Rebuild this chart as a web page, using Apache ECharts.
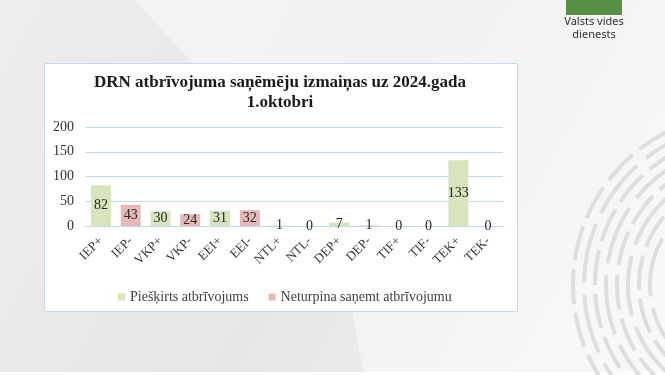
<!DOCTYPE html>
<html>
<head>
<meta charset="utf-8">
<script src="https://cdn.jsdelivr.net/npm/echarts@6/dist/echarts.min.js"></script>
<style>
  html, body { margin: 0; padding: 0; }
  #chart { width: 665px; height: 375px; }
</style>
</head>
<body>
<div id="chart"></div>
<script>
// kategorijas un vērtības
var categories = ["IEP+", "IEP-", "VKP+", "VKP-", "EEI+", "EEI-", "NTL+", "NTL-", "DEP+", "DEP-", "TIF+", "TIF-", "TEK+", "TEK-"];
var pieskirts = [82, "-", 30, "-", 31, "-", 1, "-", 7, "-", 0, "-", 133, "-"];
var neturpina = ["-", 43, "-", 24, "-", 32, "-", 0, "-", 1, "-", 0, "-", 0];
var yTicks = [0, 50, 100, 150, 200];
var seriesNames = ["Piešķirts atbrīvojums", "Neturpina saņemt atbrīvojumu"];

(function(){
  var myChart = echarts.init(document.getElementById('chart'));
  var serif = "Liberation Serif";

  // fona "pirksta nospiedums" labajā pusē
  var arcs = [];
  for (var i = 0; i < 8; i++) {
    arcs.push({
      type: 'arc',
      silent: true,
      z: -9,
      shape: { cx: 745, cy: 285, r: 95 + i * 11, startAngle: Math.PI * 0.72, endAngle: Math.PI * 1.38 },
      style: { stroke: '#dedede', lineWidth: 4, fill: null, lineDash: i % 2 ? [35, 9] : [60, 12] }
    });
  }

  var option = {
    textStyle: { fontFamily: serif },
    backgroundColor: {
      type: 'linear', x: 0, y: 0, x2: 1, y2: 1,
      colorStops: [
        { offset: 0, color: '#ededee' },
        { offset: 0.5, color: '#e6e6e8' },
        { offset: 1, color: '#f4f4f4' }
      ]
    },
    graphic: [
      {
        type: 'polygon', silent: true, z: -10,
        shape: { points: [[135, 0], [665, 0], [665, 375], [364, 375], [352, 311], [190, 60]] },
        style: { fill: 'rgba(255,255,255,0.45)' }
      },
      {
        type: 'rect', silent: true, z: -10,
        shape: { x: 0, y: 372, width: 665, height: 3 },
        style: { fill: '#ffffff' }
      }
    ].concat(arcs).concat([
      {
        type: 'rect', silent: true, z: -5,
        shape: { x: 44.5, y: 63.5, width: 473, height: 248 },
        style: { fill: '#ffffff', stroke: '#c9d9ee', lineWidth: 1 }
      },
      {
        type: 'rect', silent: true,
        shape: { x: 566, y: 0, width: 56, height: 15 },
        style: { fill: '#578f45' }
      },
      {
        type: 'text', silent: true,
        x: 594, y: 15,
        style: {
          text: 'Valsts vides\ndienests', align: 'center', verticalAlign: 'top',
          font: "11px 'Noto Sans', sans-serif", fill: '#333333', lineHeight: 13
        }
      }
    ]),
    title: {
      text: "DRN atbrīvojuma saņēmēju izmaiņas uz 2024.gada\n1.oktobri",
      left: 275,
      textAlign: 'center',
      top: 68,
      textStyle: {
        fontFamily: serif,
        fontWeight: 'bold',
        fontSize: 17,
        lineHeight: 20,
        color: '#1a1a1a'
      }
    },
    legend: {
      data: seriesNames,
      left: 113,
      top: 285,
      icon: 'rect',
      itemWidth: 7,
      itemHeight: 7,
      itemGap: 20,
      textStyle: { fontFamily: serif, fontSize: 14, color: '#404040' }
    },
    grid: {
      left: 86,
      right: 162,
      top: 127,
      bottom: 149,
      containLabel: false
    },
    xAxis: {
      type: 'category',
      data: categories,
      axisLine: { lineStyle: { color: '#c5d5ea' } },
      axisTick: { show: false },
      axisLabel: {
        interval: 0,
        rotate: 45,
        margin: 13,
        fontFamily: serif,
        fontSize: 13,
        color: '#333333'
      }
    },
    yAxis: {
      type: 'value',
      min: yTicks[0],
      max: yTicks[yTicks.length - 1],
      interval: 50,
      axisLine: { show: false },
      axisTick: { show: false },
      axisLabel: { fontFamily: serif, fontSize: 14, color: '#333333', margin: 12 },
      splitLine: { lineStyle: { color: '#c5d5ea' } }
    },
    series: [
      {
        name: seriesNames[0],
        type: 'bar',
        data: pieskirts,
        barWidth: 20,
        barGap: '-100%',
        itemStyle: { color: '#d7e4bd' },
        label: { show: true, position: 'inside', fontFamily: serif, fontSize: 14, color: '#262626' }
      },
      {
        name: seriesNames[1],
        type: 'bar',
        data: neturpina,
        barWidth: 20,
        barGap: '-100%',
        itemStyle: { color: '#e6b9b8' },
        label: { show: true, position: 'inside', fontFamily: serif, fontSize: 14, color: '#262626' }
      }
    ]
  };
  myChart.setOption(option);
  window.addEventListener("resize", function() {
    myChart.resize();
  });
})();
</script>
</body>
</html>
